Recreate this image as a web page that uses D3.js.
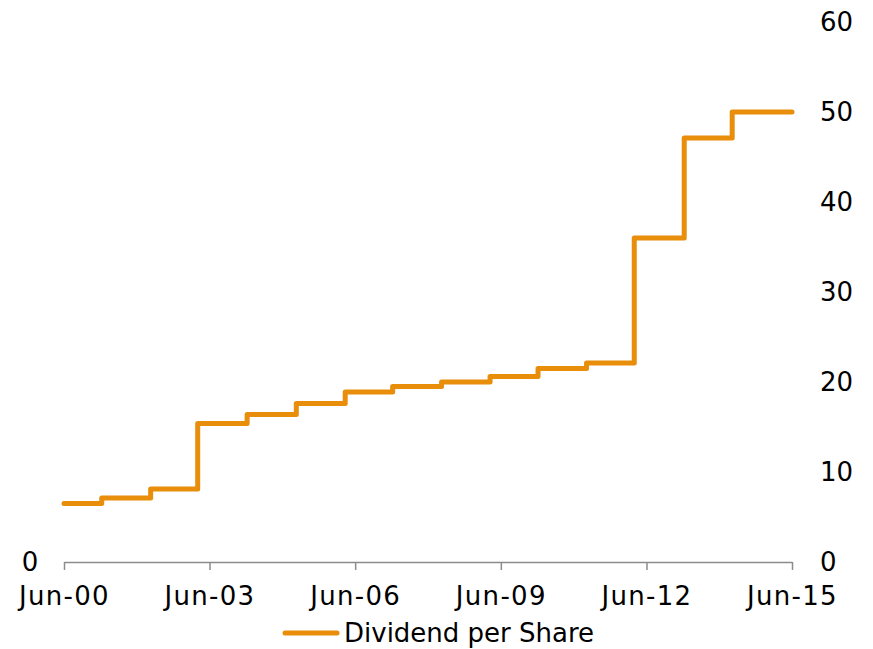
<!DOCTYPE html>
<html>
<head>
<meta charset="utf-8">
<script src="https://cdn.jsdelivr.net/npm/d3@7"></script>
<style>
  html, body { margin: 0; padding: 0; background: #fff; }
  text { font-family: "DejaVu Sans", Verdana, sans-serif; fill: #000; }
</style>
</head>
<body>
<svg id="chart" width="873" height="649"></svg>
<script>
// Data
const stepDates = ["2000-06-01","2001-03-12","2002-03-15","2003-03-04","2004-03-10","2005-03-15",
  "2006-03-18","2007-03-10","2008-03-12","2009-03-12","2010-03-08","2011-03-08","2012-03-01",
  "2013-03-12","2014-03-08","2015-06-01"];
const dividend = [6.5, 7.1, 8.1, 15.4, 16.4, 17.6, 18.9, 19.5, 20.0, 20.6, 21.5, 22.1, 36.0, 47.1, 50.0, 50.0];
const xTickDates = ["2000-06-01","2003-06-01","2006-06-01","2009-06-01","2012-06-01","2015-06-01"];
const yTicks = [0, 10, 20, 30, 40, 50, 60];
const seriesName = "Dividend per Share";

const parse = d3.timeParse("%Y-%m-%d");
const data = stepDates.map((d, i) => ({ date: parse(d), value: dividend[i] }));

const svg = d3.select("#chart");
const x = d3.scaleTime().domain([parse("2000-06-01"), parse("2015-06-01")]).range([64, 792]);
const y = d3.scaleLinear().domain([0, 60]).range([562, 22]);
const color = "#E88E0A";
const fontSize = 26;

// X axis
const xAxis = d3.axisBottom(x)
  .tickValues(xTickDates.map(parse))
  .tickFormat(d3.timeFormat("%b-%y"))
  .tickSizeInner(8).tickSizeOuter(0).tickPadding(17);
const gx = svg.append("g").attr("transform", "translate(0,562)").call(xAxis);
gx.select(".domain").attr("stroke", "#8c8c8c").attr("stroke-width", 1.5);
gx.selectAll(".tick line").attr("stroke", "#8c8c8c").attr("stroke-width", 1.5);
gx.selectAll(".tick text")
  .attr("font-size", fontSize)
  .attr("font-family", "'DejaVu Sans', Verdana, sans-serif")
  .attr("letter-spacing", "1.3px")
  .attr("fill", "#000");

// Right Y axis (labels only)
const yAxis = d3.axisRight(y).tickValues(yTicks).tickSize(0).tickPadding(0);
const gy = svg.append("g").attr("transform", "translate(820,0)").call(yAxis);
gy.select(".domain").remove();
gy.selectAll(".tick text")
  .attr("font-size", fontSize)
  .attr("font-family", "'DejaVu Sans', Verdana, sans-serif")
  .attr("fill", "#000")
  .attr("x", 0)
  .attr("text-anchor", "start");

// Left Y axis (only 0 shown)
const yLeft = d3.axisLeft(y).tickValues([0]).tickSize(0).tickPadding(0);
const gl = svg.append("g").attr("transform", "translate(30,0)").call(yLeft);
gl.select(".domain").remove();
gl.selectAll(".tick text")
  .attr("font-size", fontSize)
  .attr("font-family", "'DejaVu Sans', Verdana, sans-serif")
  .attr("fill", "#000")
  .attr("x", 0)
  .attr("text-anchor", "middle");

// Step line
const line = d3.line()
  .x(d => x(d.date))
  .y(d => y(d.value))
  .curve(d3.curveStepAfter);
svg.append("path")
  .datum(data)
  .attr("d", line)
  .attr("fill", "none")
  .attr("stroke", color)
  .attr("stroke-width", 5)
  .attr("stroke-linejoin", "round")
  .attr("stroke-linecap", "round");

// Legend
const lg = svg.append("g");
lg.append("line")
  .attr("x1", 285).attr("x2", 337).attr("y1", 633).attr("y2", 633)
  .attr("stroke", color).attr("stroke-width", 5).attr("stroke-linecap", "round");
lg.append("text")
  .attr("x", 344).attr("y", 633)
  .attr("dy", "0.35em")
  .attr("font-size", fontSize)
  .text(seriesName);
</script>
</body>
</html>
